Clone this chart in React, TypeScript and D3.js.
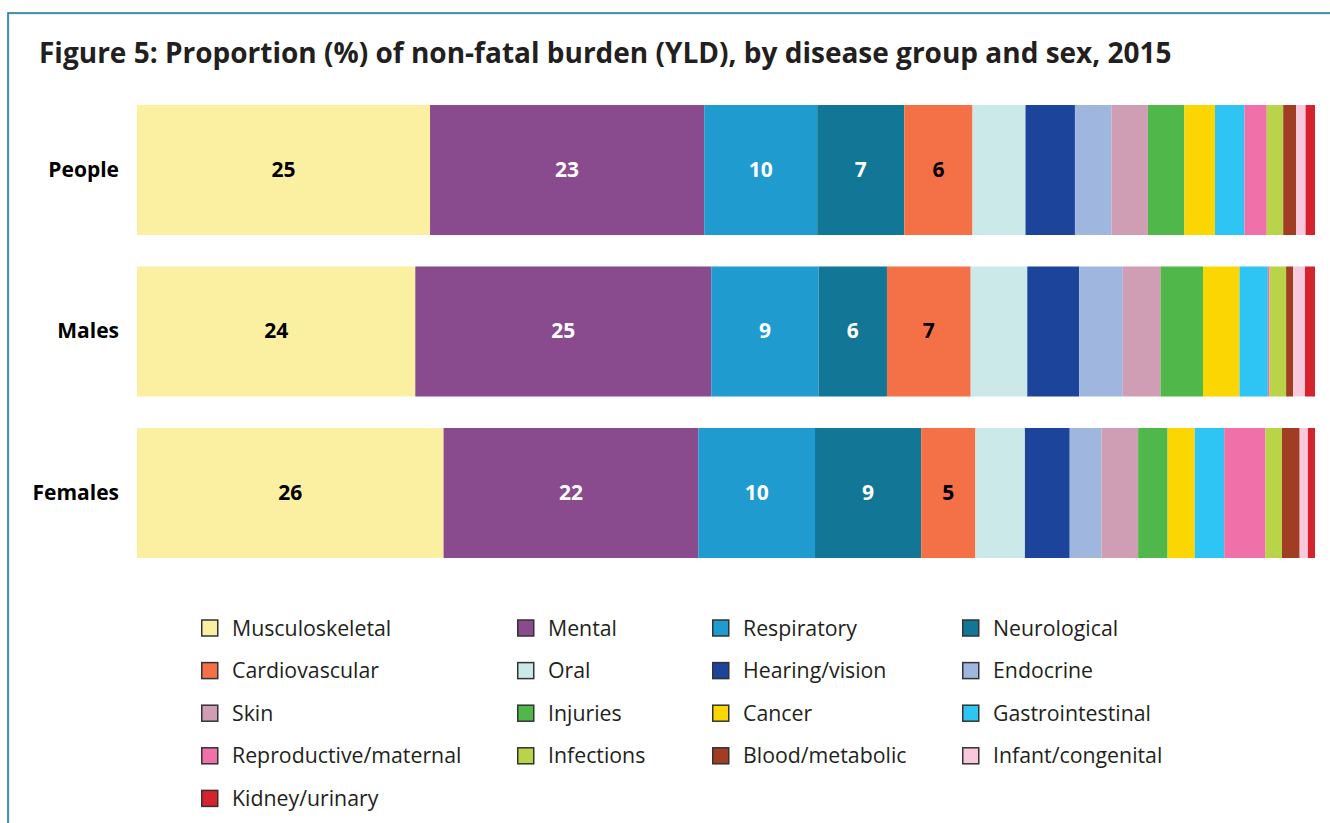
import React from "react";
import * as d3 from "d3";

const categories = ["People", "Males", "Females"];

const groups = [
  "Musculoskeletal", "Mental", "Respiratory", "Neurological",
  "Cardiovascular", "Oral", "Hearing/vision", "Endocrine",
  "Skin", "Injuries", "Cancer", "Gastrointestinal",
  "Reproductive/maternal", "Infections", "Blood/metabolic", "Infant/congenital",
  "Kidney/urinary",
];

const colors = [
  "#fbf0a2", "#8a4a8e", "#209bd0", "#127696",
  "#f47046", "#cae9e8", "#1b449a", "#9fb7df",
  "#cf9eb4", "#50b84a", "#fbd603", "#2ec4f4",
  "#f070aa", "#bad44a", "#a03d23", "#f8c8dc",
  "#d6222d",
];

// proportion (%) per disease group, same order as groups
const peopleValues = [24.9, 23.3, 9.6, 7.4, 5.8, 4.5, 4.2, 3.1, 3.1, 3.1, 2.6, 2.5, 1.9, 1.4, 1.1, 0.8, 0.8];
const malesValues = [23.6, 25.1, 9.1, 5.8, 7.1, 4.8, 4.4, 3.7, 3.2, 3.6, 3.1, 2.4, 0.15, 1.4, 0.6, 1.0, 0.85];
const femalesValues = [26.0, 21.6, 9.9, 9.0, 4.6, 4.2, 3.8, 2.7, 3.1, 2.5, 2.3, 2.5, 3.5, 1.4, 1.5, 0.7, 0.6];

// only the five biggest groups carry a value label
const labelledGroups = 5;
const whiteLabelGroups = ["Mental", "Respiratory", "Neurological"];

const W = 1330;
const H = 823;
const FONT = "'Open Sans', 'Noto Sans', sans-serif";

export default function App() {
  React.useEffect(() => {
    document.body.style.margin = "0";
    document.body.style.overflow = "hidden";
  }, []);

  const table = categories.map((c, i) => {
    const vals = [peopleValues, malesValues, femalesValues][i];
    const row: Record<string, any> = { category: c };
    groups.forEach((g, j) => (row[g] = vals[j]));
    return row;
  });

  // each bar is a 100% stack
  const series = d3.stack().keys(groups).offset(d3.stackOffsetExpand)(table as any);

  const x = d3.scaleLinear().domain([0, 1]).range([137, 1315]);
  const y = d3.scaleBand().domain(categories).range([105, 558]).paddingInner(0.195);
  const color = d3.scaleOrdinal<string, string>().domain(groups).range(colors);

  const legendCols = [201, 517, 712, 962];
  const legendRow = (i: number) => 628 + Math.floor(i / 4) * 42.6;

  return (
    <svg width={W} height={H} style={{ display: "block", fontFamily: FONT }}>
      <rect x={0} y={0} width={W} height={H} fill="#fff" />
      {/* frame */}
      <rect x={9} y={14} width={1340} height={900} fill="none" stroke="#bfe0ea" strokeWidth={1} />
      <rect x={8} y={13} width={1340} height={900} fill="none" stroke="#227c94" strokeWidth={1.6} />

      <text x={39} y={63} fontSize={28} fontWeight={700} fill="#231f20">
        Figure 5: Proportion (%) of non-fatal burden (YLD), by disease group and sex, 2015
      </text>

      {series.map((s) => (
        <g key={s.key} fill={color(s.key)}>
          {s.map((d: any) => (
            <rect
              key={d.data.category}
              x={x(d[0])}
              y={y(d.data.category)}
              width={Math.max(0, x(d[1]) - x(d[0]))}
              height={y.bandwidth()}
            />
          ))}
        </g>
      ))}

      {series.slice(0, labelledGroups).map((s) =>
        s.map((d: any) => (
          <text
            key={s.key + d.data.category}
            x={(x(d[0]) + x(d[1])) / 2}
            y={(y(d.data.category) as number) + y.bandwidth() / 2}
            dy="0.33em"
            textAnchor="middle"
            fontSize={21}
            fontWeight={700}
            fill={whiteLabelGroups.includes(s.key) ? "#fff" : "#000"}
          >
            {d3.format(".0f")(d.data[s.key])}
          </text>
        ))
      )}

      {categories.map((c) => (
        <text
          key={c}
          x={119}
          y={(y(c) as number) + y.bandwidth() / 2}
          dy="0.33em"
          textAnchor="end"
          fontSize={21}
          fontWeight={700}
          fill="#000"
        >
          {c}
        </text>
      ))}

      {groups.map((g, i) => (
        <g key={g} transform={`translate(${legendCols[i % 4]},${legendRow(i)})`}>
          <rect x={0.75} y={-8} width={16} height={16} fill={color(g)} stroke="#333" strokeWidth={1.5} />
          <text x={31} y={0} dy="0.36em" fontSize={21.3} fill="#231f20">
            {g}
          </text>
        </g>
      ))}
    </svg>
  );
}
